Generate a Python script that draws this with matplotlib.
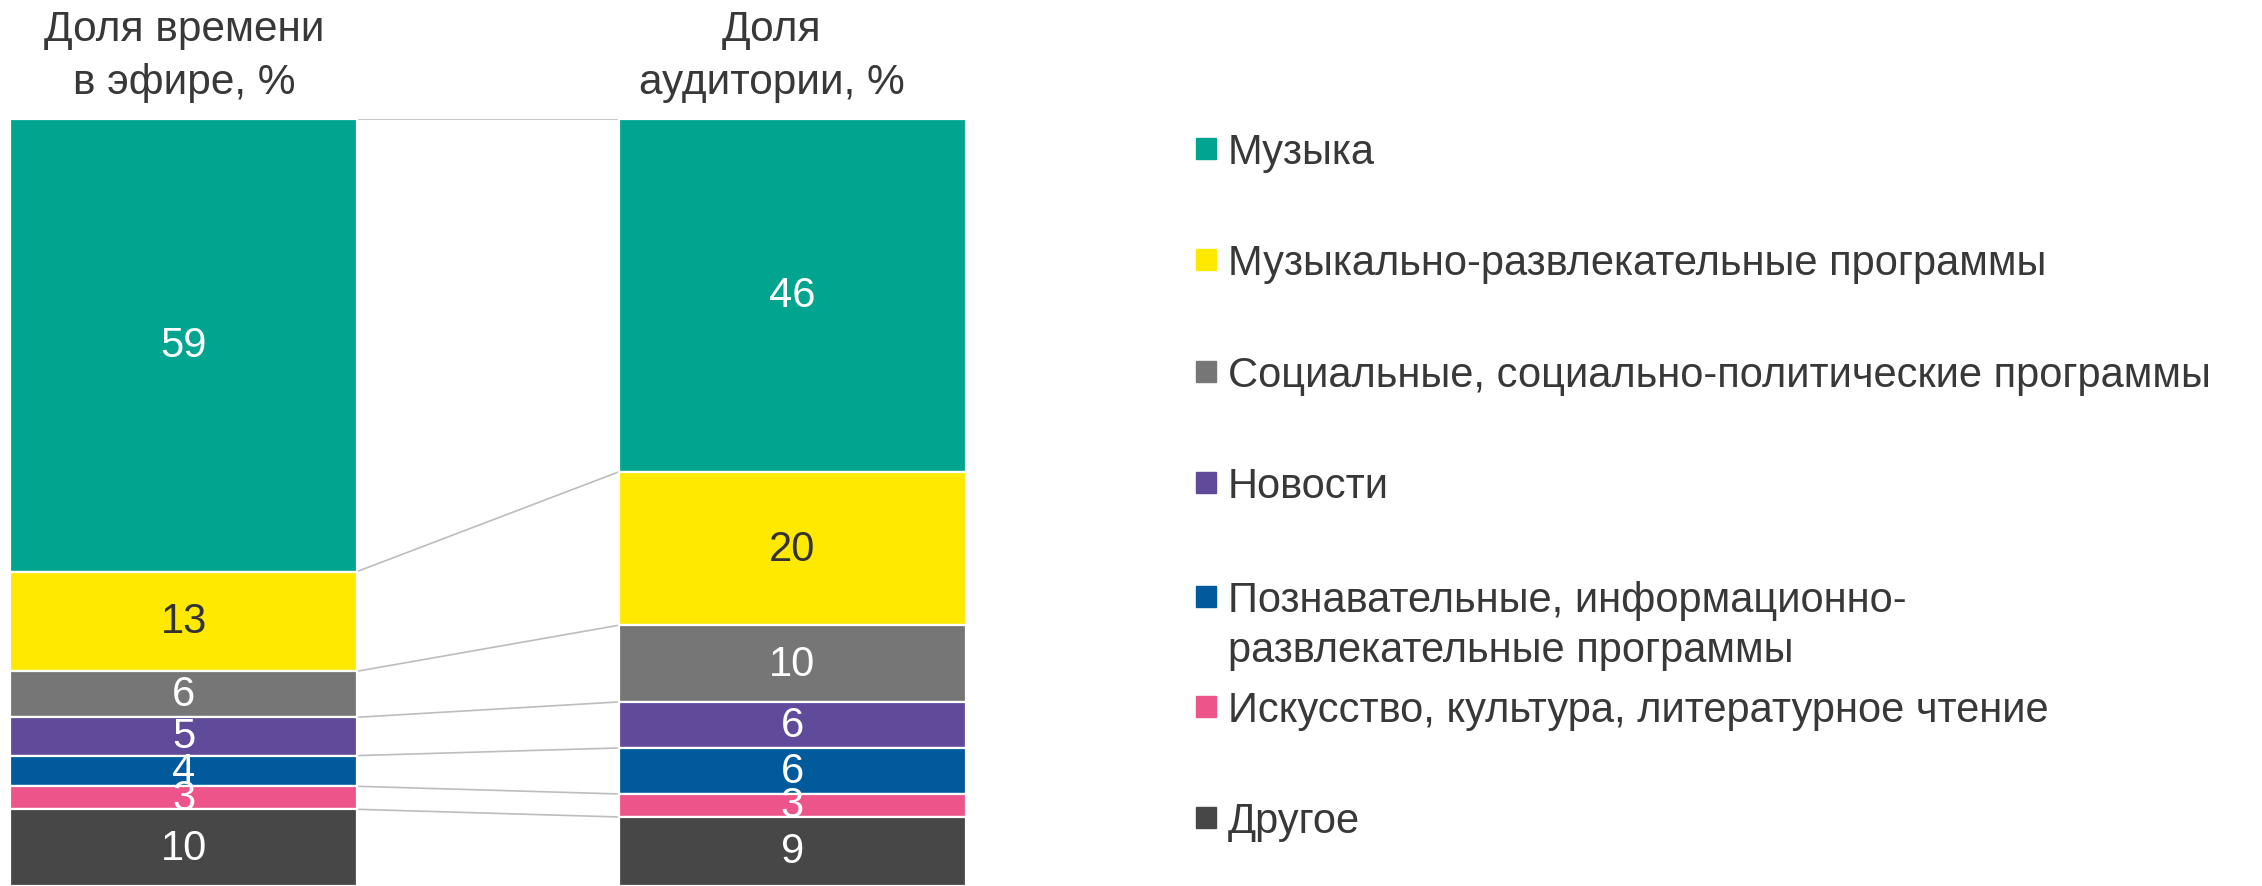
import numpy as np
import matplotlib.pyplot as plt
from matplotlib.patches import Rectangle

plt.rcParams['font.family'] = ['Liberation Sans', 'DejaVu Sans']

# Данные
categories = ["Музыка",
              "Музыкально-развлекательные программы",
              "Социальные, социально-политические программы",
              "Новости",
              "Познавательные, информационно-\nразвлекательные программы",
              "Искусство, культура, литературное чтение",
              "Другое"]
air_share = [59, 13, 6, 5, 4, 3, 10]
audience_share = [46, 20, 10, 6, 6, 3, 9]
headers = ["Доля времени\nв эфире, %", "Доля\nаудитории, %"]

colors = ["#00A48F", "#FFE900", "#767676", "#604A9A", "#005A9C", "#EC548A", "#474747"]
label_colors = ["white", "#333333", "white", "white", "white", "white", "white"]
text_color = "#383838"

W, H = 2262, 887
fig = plt.figure(figsize=(W / 100, H / 100), dpi=100)

# Оси под столбцы (в пикселях картинки)
ax = fig.add_axes([10 / W, 0, 956 / W, 767 / H])
bar_w = 0.57
xs = [0, 1]
series = [air_share, audience_share]

for x, vals in zip(xs, series):
    bottoms = np.concatenate([[0], np.cumsum(vals)[:-1]])
    for i, (v, b) in enumerate(zip(vals, bottoms)):
        ax.bar(x, v, bottom=b, width=bar_w, color=colors[i],
               edgecolor="white", linewidth=1.6)
        ax.text(x, b + v / 2, str(v), ha="center", va="center",
                fontsize=30, color=label_colors[i])

# Соединительные линии между границами сегментов
cum_left = np.concatenate([[0], np.cumsum(air_share)[:-1]])
cum_right = np.concatenate([[0], np.cumsum(audience_share)[:-1]])
for yl, yr in zip(cum_left, cum_right):
    ax.plot([bar_w / 2, 1 - bar_w / 2], [yl, yr], color="#BDBDBD",
            linewidth=1.2, zorder=0)

ax.set_xlim(-bar_w / 2, 1 + bar_w / 2)
ax.set_ylim(100, 0)
ax.axis("off")

# Заголовки над столбцами (построчно, базовые линии в пикселях)
header_x = [184, 772]
for hx, h in zip(header_x, headers):
    for k, line in enumerate(h.split("\n")):
        fig.text(hx / W, 1 - (41 + 53 * k) / H, line, ha="center",
                 va="baseline", fontsize=30.5, color=text_color)

# Легенда вручную
baselines = [164, 275, 387, 498, 612, 722, 833]
line_step = 50
for name, c, yb in zip(categories, colors, baselines):
    fig.add_artist(Rectangle((1196 / W, 1 - (yb - 4) / H), 20 / W, 21 / H,
                             transform=fig.transFigure, color=c))
    for k, line in enumerate(name.split("\n")):
        fig.text(1228 / W, 1 - (yb + k * line_step) / H, line,
                 ha="left", va="baseline", fontsize=30, color=text_color)

fig.savefig("out.png", dpi=100)
